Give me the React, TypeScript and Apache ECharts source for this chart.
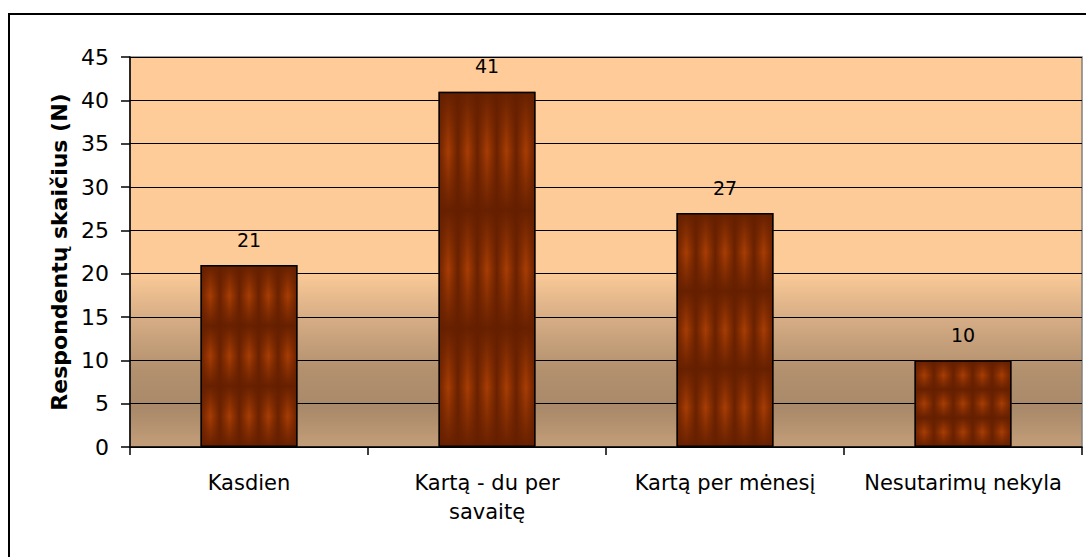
import React, { useEffect, useRef } from "react";
import * as echarts from "echarts";

const categories = ["Kasdien", "Kartą - du per\nsavaitę", "Kartą per mėnesį", "Nesutarimų nekyla"];
const values = [21, 41, 27, 10];
const yAxisName = "Respondentų skaičius (N)";
const yMin = 0;
const yMax = 45;
const yInterval = 5;

const FONT = "'DejaVu Sans', sans-serif";

function stripeStops(n: number, edge: string, center: string) {
  const stops: { offset: number; color: string }[] = [];
  for (let i = 0; i < n; i++) {
    stops.push({ offset: i / n, color: edge });
    stops.push({ offset: (i + 0.5) / n, color: center });
  }
  stops.push({ offset: 1, color: edge });
  return stops;
}

export default function App() {
  const ref = useRef<HTMLDivElement>(null);
  useEffect(() => {
    if (!ref.current) return;
    const chart = echarts.init(ref.current, null, { renderer: "svg" });
    const colGrad = new echarts.graphic.LinearGradient(0, 0, 1, 0, stripeStops(5, "#6a2100", "#a83d04"));
    const rowGrad = new echarts.graphic.LinearGradient(0, 0, 0, 1, stripeStops(3, "rgba(100,31,0,0.95)", "rgba(100,31,0,0)"));
    chart.setOption({
      animation: false,
      graphic: [
        {
          type: "rect",
          shape: { x: 9, y: 14, width: 1200, height: 700 },
          style: { fill: "none", stroke: "#000", lineWidth: 2 },
          z: -10,
        },
      ],
      grid: {
        left: 130,
        right: 4,
        top: 57,
        bottom: 110,
        show: true,
        borderColor: "#808080",
        borderWidth: 1.5,
        backgroundColor: new echarts.graphic.LinearGradient(0, 0, 0, 1, [
          { offset: 0, color: "#ffcc99" },
          { offset: 0.55, color: "#fccb98" },
          { offset: 0.67, color: "#d6ad85" },
          { offset: 0.8, color: "#b3916f" },
          { offset: 0.9, color: "#a88969" },
          { offset: 1, color: "#c49e79" },
        ]),
      },
      xAxis: {
        type: "category",
        data: categories,
        axisLine: { lineStyle: { color: "#000", width: 1.5 } },
        axisTick: { show: true, length: 8, lineStyle: { color: "#000", width: 1.5 } },
        axisLabel: {
          interval: 0,
          color: "#000",
          fontFamily: FONT,
          fontSize: 21,
          lineHeight: 29,
          margin: 21,
        },
        splitLine: { show: false },
      },
      yAxis: {
        type: "value",
        min: yMin,
        max: yMax,
        interval: yInterval,
        name: yAxisName,
        nameLocation: "middle",
        nameGap: 56,
        nameTextStyle: { color: "#000", fontFamily: FONT, fontSize: 22, fontWeight: "bold" },
        axisLine: { show: true, lineStyle: { color: "#000", width: 1.5 } },
        axisTick: { show: true, length: 9, lineStyle: { color: "#000", width: 1.5 } },
        axisLabel: { color: "#000", fontFamily: FONT, fontSize: 22, margin: 21 },
        splitLine: { lineStyle: { color: "#000", width: 1.2 } },
      },
      series: [
        {
          type: "bar",
          data: values,
          barWidth: 97,
          itemStyle: { color: colGrad },
          silent: true,
          emphasis: { disabled: true },
        },
        {
          type: "bar",
          data: values,
          barWidth: 97,
          barGap: "-100%",
          itemStyle: { color: rowGrad, borderColor: "#000", borderWidth: 1.5 },
          silent: true,
          emphasis: { disabled: true },
          label: {
            show: true,
            position: "top",
            distance: 16,
            color: "#000",
            fontFamily: FONT,
            fontSize: 19,
          },
        },
      ],
    });
    return () => chart.dispose();
  }, []);
  return (
    <div
      ref={ref}
      style={{ position: "fixed", left: 0, top: 0, width: 1086, height: 557, background: "#fff" }}
    />
  );
}
